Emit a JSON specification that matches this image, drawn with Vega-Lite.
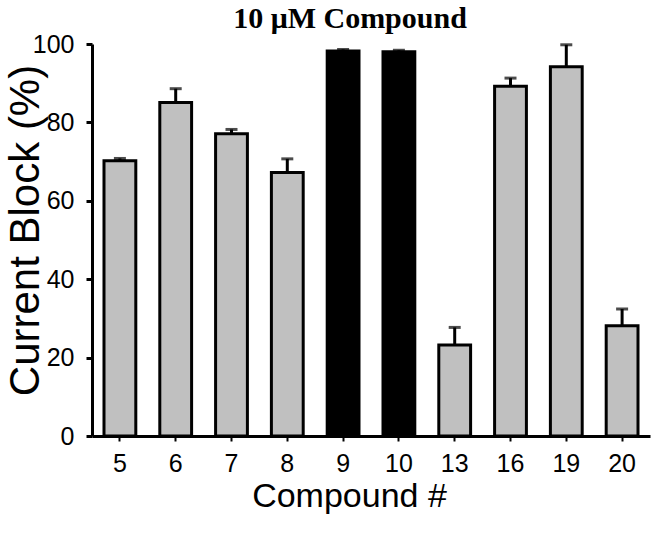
{
  "$schema": "https://vega.github.io/schema/vega-lite/v6.json",
  "autosize": {"type": "none"},
  "padding": {"left": 92, "top": 44, "right": 1, "bottom": 98},
  "width": 558,
  "height": 392,
  "background": "white",
  "title": {
    "text": "10 μM Compound",
    "font": "Liberation Serif",
    "fontWeight": "bold",
    "fontSize": 30,
    "color": "black",
    "dx": -21,
    "offset": -2
  },
  "data": {
    "values": [
      {"compound": "5", "block": 70.2, "upper": 70.8, "type": "other"},
      {"compound": "6", "block": 85.1, "upper": 88.6, "type": "other"},
      {"compound": "7", "block": 77.1, "upper": 78.2, "type": "other"},
      {"compound": "8", "block": 67.2, "upper": 70.7, "type": "other"},
      {"compound": "9", "block": 98.2, "upper": 98.6, "type": "active"},
      {"compound": "10", "block": 98.0, "upper": 98.4, "type": "active"},
      {"compound": "13", "block": 23.2, "upper": 27.7, "type": "other"},
      {"compound": "16", "block": 89.2, "upper": 91.3, "type": "other"},
      {"compound": "19", "block": 94.2, "upper": 99.8, "type": "other"},
      {"compound": "20", "block": 28.1, "upper": 32.4, "type": "other"}
    ]
  },
  "config": {
    "view": {"stroke": null},
    "axis": {
      "grid": false,
      "domainColor": "black",
      "domainWidth": 3,
      "tickColor": "black",
      "labelFont": "Liberation Sans",
      "labelColor": "black",
      "titleFont": "Liberation Sans",
      "titleColor": "black",
      "titleFontWeight": "normal"
    }
  },
  "encoding": {
    "x": {
      "field": "compound",
      "type": "nominal",
      "sort": null,
      "scale": {"paddingInner": 0.43, "paddingOuter": 0.215},
      "axis": {
        "title": "Compound #",
        "titleFontSize": 34,
        "titleBaseline": "alphabetic",
        "titleX": 257,
        "titleY": 70,
        "labelFontSize": 25,
        "labelAngle": 0,
        "tickSize": 5,
        "tickWidth": 2,
        "labelPadding": 10
      }
    }
  },
  "layer": [
    {
      "mark": {"type": "bar", "stroke": "black", "strokeWidth": 3},
      "encoding": {
        "y": {
          "field": "block",
          "type": "quantitative",
          "scale": {"domain": [0, 100], "nice": false},
          "axis": {
            "title": "Current Block (%)",
            "titleFontSize": 42,
            "titleBaseline": "alphabetic",
            "titleX": -54,
            "titleY": 186,
            "labelFontSize": 25,
            "values": [0, 20, 40, 60, 80, 100],
            "tickSize": 6,
            "tickWidth": 3,
            "labelPadding": 12
          }
        },
        "fill": {
          "field": "type",
          "type": "nominal",
          "scale": {"domain": ["other", "active"], "range": ["#c0c0c0", "#000000"]},
          "legend": null
        }
      }
    },
    {
      "mark": {"type": "rule", "color": "black", "strokeWidth": 3},
      "encoding": {
        "y": {"field": "block", "type": "quantitative"},
        "y2": {"field": "upper"}
      }
    },
    {
      "mark": {"type": "tick", "color": "black", "size": 12, "thickness": 3},
      "encoding": {
        "y": {"field": "upper", "type": "quantitative"}
      }
    }
  ]
}
